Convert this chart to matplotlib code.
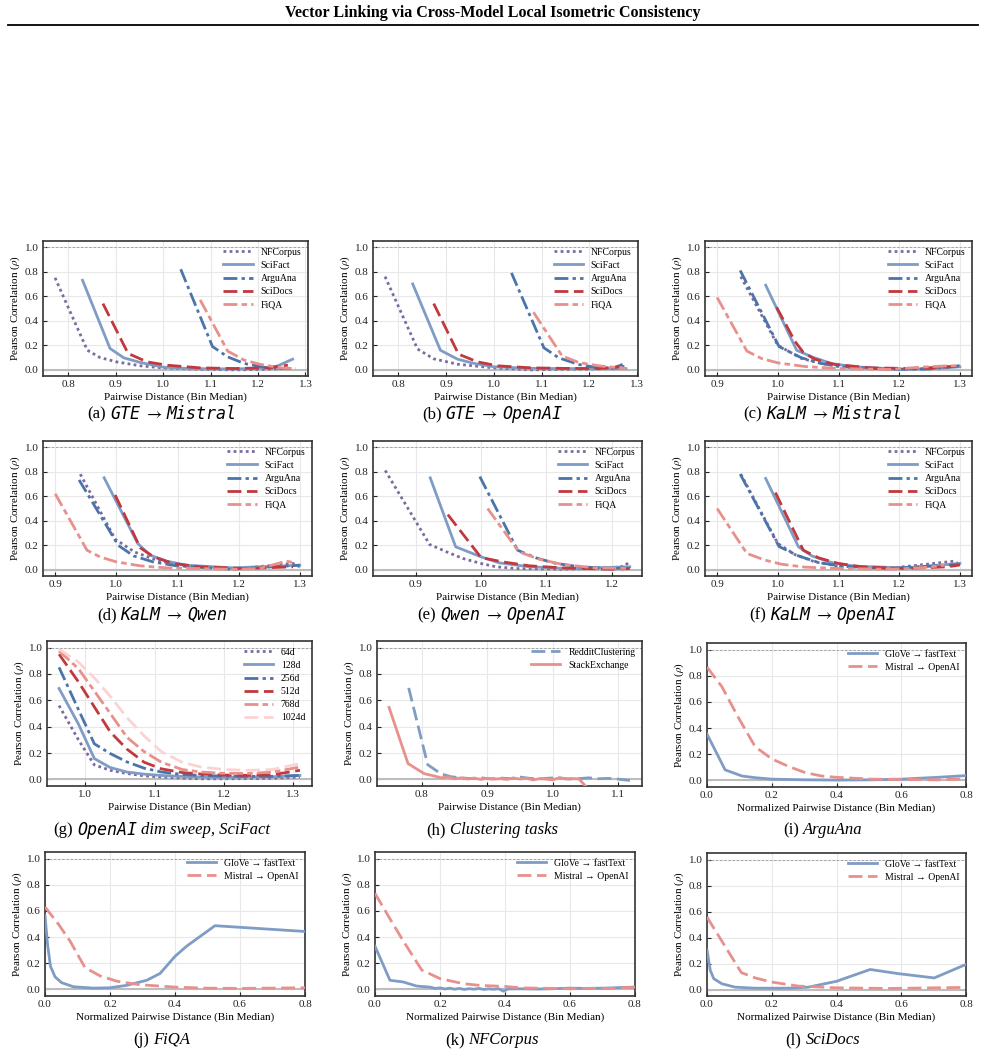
import matplotlib
matplotlib.use('Agg')
import matplotlib.pyplot as plt
from matplotlib.lines import Line2D
from matplotlib.ticker import FormatStrFormatter, MultipleLocator

plt.rcParams['font.family'] = ['Liberation Serif', 'DejaVu Serif']
plt.rcParams['mathtext.fontset'] = 'stix'

# ---- data ----
# (a) GTE -> Mistral
a_nfcorpus_x = [0.772, 0.840, 0.867, 0.902, 0.952, 1.000, 1.05, 1.10, 1.15, 1.20, 1.25]
a_nfcorpus_y = [0.75, 0.16, 0.10, 0.065, 0.033, 0.016, 0.008, 0.003, 0.0, 0.003, 0.01]
a_scifact_x = [0.830, 0.888, 0.917, 0.952, 1.000, 1.05, 1.10, 1.15, 1.20, 1.24, 1.273]
a_scifact_y = [0.73, 0.174, 0.098, 0.060, 0.022, 0.012, 0.008, 0.008, 0.012, 0.03, 0.087]
a_arguana_x = [1.037, 1.104, 1.136, 1.171, 1.220, 1.270]
a_arguana_y = [0.82, 0.19, 0.106, 0.052, 0.016, 0.010]
a_scidocs_x = [0.873, 0.926, 0.966, 1.008, 1.079, 1.150, 1.220, 1.263]
a_scidocs_y = [0.54, 0.134, 0.065, 0.038, 0.016, 0.011, 0.016, 0.038]
a_fiqa_x = [1.078, 1.136, 1.171, 1.206, 1.249, 1.280]
a_fiqa_y = [0.57, 0.153, 0.079, 0.044, 0.016, 0.010]

# (b) GTE -> OpenAI
b_nfcorpus_x = [0.772, 0.840, 0.874, 0.924, 1.000, 1.080, 1.15, 1.22, 1.277]
b_nfcorpus_y = [0.76, 0.17, 0.09, 0.046, 0.016, 0.0, 0.005, 0.008, 0.03]
b_scifact_x = [0.830, 0.888, 0.924, 0.959, 1.000, 1.08, 1.16, 1.22, 1.277]
b_scifact_y = [0.70, 0.16, 0.087, 0.052, 0.025, 0.012, 0.01, 0.01, 0.01]
b_arguana_x = [1.037, 1.105, 1.136, 1.178, 1.220, 1.250, 1.270]
b_arguana_y = [0.79, 0.18, 0.098, 0.044, 0.016, 0.012, 0.045]
b_scidocs_x = [0.874, 0.926, 0.966, 1.008, 1.080, 1.150, 1.220, 1.263]
b_scidocs_y = [0.54, 0.128, 0.065, 0.033, 0.016, 0.012, 0.011, 0.025]
b_fiqa_x = [1.083, 1.143, 1.178, 1.220, 1.277]
b_fiqa_y = [0.47, 0.114, 0.060, 0.033, 0.011]

# (c) KaLM -> Mistral
c_nfcorpus_x = [0.939, 1.000, 1.039, 1.072, 1.105, 1.15, 1.200, 1.25, 1.300]
c_nfcorpus_y = [0.76, 0.20, 0.093, 0.052, 0.025, 0.012, 0.005, 0.01, 0.033]
c_scifact_x = [0.980, 1.031, 1.056, 1.088, 1.127, 1.200, 1.25, 1.300]
c_scifact_y = [0.69, 0.16, 0.106, 0.052, 0.025, 0.005, 0.008, 0.025]
c_arguana_x = [0.938, 1.002, 1.039, 1.072, 1.105, 1.182, 1.25, 1.300]
c_arguana_y = [0.81, 0.19, 0.098, 0.052, 0.025, 0.005, 0.008, 0.033]
c_scidocs_x = [0.998, 1.028, 1.042, 1.061, 1.094, 1.154, 1.225, 1.300]
c_scidocs_y = [0.51, 0.234, 0.142, 0.087, 0.044, 0.016, 0.011, 0.030]
c_fiqa_x = [0.900, 0.949, 0.973, 1.000, 1.045, 1.100, 1.182, 1.236, 1.280, 1.300]
c_fiqa_y = [0.59, 0.153, 0.093, 0.057, 0.027, 0.011, 0.003, 0.022, 0.033, 0.033]

# (d) KaLM -> Qwen
d_nfcorpus_x = [0.941, 0.998, 1.030, 1.060, 1.090, 1.120, 1.200, 1.289, 1.300]
d_nfcorpus_y = [0.78, 0.25, 0.145, 0.09, 0.05, 0.03, 0.011, 0.052, 0.025]
d_scifact_x = [0.980, 1.035, 1.055, 1.082, 1.115, 1.190, 1.300]
d_scifact_y = [0.75, 0.215, 0.120, 0.071, 0.038, 0.016, 0.038]
d_arguana_x = [0.939, 1.003, 1.028, 1.060, 1.098, 1.190, 1.300]
d_arguana_y = [0.733, 0.20, 0.114, 0.065, 0.033, 0.005, 0.038]
d_scidocs_x = [0.998, 1.039, 1.061, 1.093, 1.136, 1.212, 1.289]
d_scidocs_y = [0.61, 0.18, 0.106, 0.052, 0.025, 0.011, 0.025]
d_fiqa_x = [0.900, 0.952, 0.973, 1.000, 1.039, 1.082, 1.190, 1.234, 1.278, 1.289]
d_fiqa_y = [0.62, 0.16, 0.106, 0.065, 0.033, 0.016, 0.005, 0.011, 0.071, 0.060]

# (e) Qwen -> OpenAI
e_nfcorpus_x = [0.853, 0.921, 0.947, 0.972, 1.000, 1.023, 1.054, 1.125, 1.200, 1.220, 1.228]
e_nfcorpus_y = [0.81, 0.207, 0.147, 0.093, 0.052, 0.025, 0.011, 0.005, 0.016, 0.03, 0.07]
e_scifact_x = [0.922, 0.961, 1.000, 1.028, 1.074, 1.135, 1.228]
e_scifact_y = [0.75, 0.188, 0.106, 0.057, 0.025, 0.011, 0.025]
e_arguana_x = [0.998, 1.056, 1.084, 1.115, 1.151, 1.200, 1.228]
e_arguana_y = [0.76, 0.16, 0.098, 0.052, 0.025, 0.011, 0.016]
e_scidocs_x = [0.949, 1.000, 1.033, 1.074, 1.125, 1.200, 1.228]
e_scidocs_y = [0.45, 0.10, 0.065, 0.033, 0.016, 0.005, 0.011]
e_fiqa_x = [1.010, 1.058, 1.089, 1.125, 1.175, 1.228]
e_fiqa_y = [0.50, 0.147, 0.087, 0.044, 0.016, 0.011]

# (f) KaLM -> OpenAI
f_nfcorpus_x = [0.939, 1.000, 1.028, 1.061, 1.100, 1.182, 1.291, 1.300]
f_nfcorpus_y = [0.78, 0.215, 0.125, 0.065, 0.030, 0.011, 0.071, 0.040]
f_scifact_x = [0.980, 1.034, 1.056, 1.088, 1.127, 1.209, 1.300]
f_scifact_y = [0.745, 0.188, 0.114, 0.060, 0.030, 0.016, 0.052]
f_arguana_x = [0.938, 1.002, 1.034, 1.067, 1.105, 1.182, 1.300]
f_arguana_y = [0.78, 0.19, 0.114, 0.060, 0.030, 0.011, 0.044]
f_scidocs_x = [0.996, 1.042, 1.067, 1.100, 1.138, 1.209, 1.280, 1.300]
f_scidocs_y = [0.63, 0.16, 0.098, 0.052, 0.025, 0.011, 0.025, 0.040]
f_fiqa_x = [0.900, 0.949, 0.979, 1.006, 1.045, 1.100, 1.182, 1.236, 1.275]
f_fiqa_y = [0.50, 0.134, 0.079, 0.046, 0.022, 0.011, 0.005, 0.016, 0.038]

# (g) OpenAI dim sweep on SciFact
g_x = [0.962, 0.990, 1.013, 1.036, 1.060, 1.085, 1.110, 1.140, 1.167, 1.200, 1.235, 1.270, 1.310]
g_64d = [0.56, 0.30, 0.11, 0.069, 0.045, 0.027, 0.018, 0.010, 0.005, 0.005, 0.006, 0.008, 0.018]
g_128d = [0.69, 0.42, 0.158, 0.09, 0.056, 0.04, 0.03, 0.022, 0.018, 0.016, 0.018, 0.02, 0.03]
g_256d = [0.85, 0.53, 0.27, 0.196, 0.133, 0.085, 0.056, 0.038, 0.03, 0.025, 0.023, 0.023, 0.03]
g_512d = [0.95, 0.74, 0.55, 0.36, 0.23, 0.13, 0.08, 0.052, 0.041, 0.033, 0.031, 0.035, 0.069]
g_768d = [0.975, 0.84, 0.67, 0.5, 0.32, 0.21, 0.13, 0.075, 0.056, 0.046, 0.045, 0.055, 0.094]
g_1024d = [0.987, 0.89, 0.77, 0.63, 0.47, 0.33, 0.21, 0.13, 0.094, 0.075, 0.069, 0.075, 0.12]

# (h) clustering tasks
h_reddit_x = [0.780, 0.809, 0.829, 0.845, 0.860, 0.875, 0.890, 0.905, 0.920, 0.935, 0.950,
              0.965, 0.980, 0.995, 1.010, 1.025, 1.040, 1.055, 1.070, 1.085, 1.100, 1.118]
h_reddit_y = [0.694, 0.112, 0.043, 0.02, 0.012, 0.006, 0.012, 0.004, 0.01, 0.006, 0.018,
              0.008, 0.004, 0.01, 0.012, 0.003, 0.006, 0.012, 0.005, 0.008, 0.002, -0.008]
h_stack_x = [0.750, 0.779, 0.804, 0.819, 0.83, 0.84, 0.85, 0.86, 0.87, 0.88, 0.89, 0.90, 0.91, 0.92,
             0.93, 0.94, 0.95, 0.96, 0.97, 0.98, 0.99, 1.00, 1.01, 1.02, 1.03, 1.04, 1.052]
h_stack_y = [0.546, 0.12, 0.043, 0.026, 0.012, 0.02, 0.004, 0.012, 0.003, 0.01, 0.0, 0.008, 0.002, 0.006,
             0.0, 0.01, 0.003, 0.008, -0.004, 0.006, 0.002, -0.003, 0.012, 0.003, 0.006, 0.004, -0.06]

# (i) ArguAna, normalized distance
i_glove_x = [0.0, 0.056, 0.108, 0.149, 0.2, 0.303, 0.4, 0.508, 0.6, 0.713, 0.8]
i_glove_y = [0.354, 0.081, 0.034, 0.021, 0.01, 0.005, 0.003, 0.005, 0.01, 0.024, 0.037]
i_mistral_x = [0.0, 0.046, 0.097, 0.149, 0.2, 0.251, 0.303, 0.354, 0.4, 0.508, 0.6, 0.713, 0.8]
i_mistral_y = [0.866, 0.716, 0.48, 0.257, 0.165, 0.108, 0.06, 0.034, 0.024, 0.01, 0.008, 0.005, 0.013]

# (j) FiQA
j_glove_x = [0.0, 0.008, 0.017, 0.031, 0.051, 0.087, 0.149, 0.2, 0.251, 0.313, 0.354, 0.4, 0.436, 0.523, 0.8]
j_glove_y = [0.565, 0.34, 0.175, 0.096, 0.052, 0.021, 0.010, 0.013, 0.031, 0.07, 0.122, 0.253, 0.331, 0.487, 0.443]
j_mistral_x = [0.0, 0.041, 0.077, 0.123, 0.169, 0.221, 0.292, 0.4, 0.497, 0.6, 0.8]
j_mistral_y = [0.63, 0.5, 0.37, 0.167, 0.104, 0.063, 0.036, 0.018, 0.01, 0.008, 0.013]

# (k) NFCorpus
k_glove_x = [0.0, 0.046, 0.087, 0.128, 0.169, 0.185, 0.2, 0.215, 0.23, 0.245, 0.26, 0.275, 0.29, 0.305,
             0.32, 0.335, 0.35, 0.365, 0.38, 0.395, 0.41, 0.45, 0.5, 0.55, 0.6, 0.65, 0.7, 0.75, 0.8]
k_glove_y = [0.33, 0.07, 0.057, 0.026, 0.018, 0.008, 0.012, 0.004, 0.01, 0.002, 0.008, 0.0, 0.006, 0.002,
             0.008, 0.0, 0.005, 0.001, 0.006, -0.013, 0.004, 0.005, 0.003, 0.006, 0.01, 0.008, 0.01, 0.014, 0.018]
k_mistral_x = [0.0, 0.046, 0.087, 0.144, 0.2, 0.272, 0.323, 0.4, 0.45, 0.497, 0.55, 0.6, 0.65, 0.7, 0.75, 0.8]
k_mistral_y = [0.734, 0.54, 0.37, 0.148, 0.083, 0.044, 0.031, 0.023, 0.012, 0.01, 0.008, 0.005, 0.008, 0.006, 0.01, 0.018]

# (l) SciDocs
l_glove_x = [0.0, 0.01, 0.021, 0.046, 0.087, 0.149, 0.252, 0.313, 0.4, 0.504, 0.591, 0.702, 0.8]
l_glove_y = [0.305, 0.148, 0.083, 0.044, 0.018, 0.01, 0.01, 0.018, 0.063, 0.154, 0.122, 0.089, 0.193]
l_mistral_x = [0.0, 0.106, 0.149, 0.2, 0.283, 0.4, 0.56, 0.8]
l_mistral_y = [0.557, 0.13, 0.089, 0.057, 0.026, 0.013, 0.008, 0.016]

TITLE = "Vector Linking via Cross-Model Local Isometric Consistency"

# ---- styles ----
PURPLE = '#7b6ba0'
LBLUE = '#7f9cc5'
BLUE = '#4a74aa'
RED = '#c1383d'
SALMON = '#e8908c'
PALE = '#fcd3d3'

DS_STYLE = {
    'NFCorpus': (PURPLE, (0, (1, 1.2))),
    'SciFact': (LBLUE, '-'),
    'ArguAna': (BLUE, (0, (5, 1.5, 1.2, 1.5))),
    'SciDocs': (RED, (0, (5, 2))),
    'FiQA': (SALMON, (0, (5, 1.5, 2, 1.5))),
}

W, H = 985, 1055
fig = plt.figure(figsize=(W / 100, H / 100), dpi=100)

fig.text(0.5, 1 - 13 / H, TITLE, ha='center', va='center', fontsize=11.5, fontweight='bold')
fig.add_artist(Line2D([8 / W, 978 / W], [1 - 25 / H, 1 - 25 / H], color='black', lw=1.3))


def add_axes(l, t, r, b):
    return fig.add_axes([l / W, 1 - b / H, (r - l) / W, (b - t) / H])


def style_ax(ax, xlabel, xstep):
    ax.set_ylim(-0.05, 1.05)
    ax.axhline(1.0, color='#9a9a9a', lw=0.6, ls=(0, (3, 2)), zorder=1)
    ax.axhline(0.0, color='#bdbdbd', lw=1.5, zorder=1)
    ax.grid(True, color='#e8e8e8', lw=0.8)
    ax.set_axisbelow(True)
    ax.tick_params(direction='in', length=3, width=0.8, labelsize=8, colors='#222222', pad=3)
    for sp in ax.spines.values():
        sp.set_color('#333333')
        sp.set_linewidth(1.2)
    ax.set_ylabel('Pearson Correlation ($\\rho$)', fontsize=8, labelpad=2)
    ax.set_xlabel(xlabel, fontsize=8, labelpad=2)
    ax.set_yticks([0.0, 0.2, 0.4, 0.6, 0.8, 1.0])
    ax.xaxis.set_major_locator(MultipleLocator(xstep))
    ax.yaxis.set_major_formatter(FormatStrFormatter('%.1f'))
    ax.xaxis.set_major_formatter(FormatStrFormatter('%.1f'))


def legend(ax, **kw):
    ax.legend(loc='upper right', frameon=False, fontsize=7, handlelength=3.0,
              labelspacing=0.42, borderaxespad=0.3, handletextpad=0.8, **kw)


FONTS = {
    'rm': dict(family=['Liberation Serif', 'DejaVu Serif']),
    'it': dict(family=['Liberation Serif', 'DejaVu Serif'], style='italic'),
    'tt': dict(family='DejaVu Sans Mono', style='oblique'),
}


def caption(cx, cy, pieces, size=12):
    r = fig.canvas.get_renderer()
    texts = []
    for s, kind in pieces:
        t = fig.text(0, 1 - cy / H, s, fontsize=size, ha='left', va='center', **FONTS[kind])
        texts.append(t)
    widths = [t.get_window_extent(r).width for t in texts]
    gap = 4
    total = sum(widths) + gap * (len(texts) - 1)
    x = cx - total / 2
    for t, w in zip(texts, widths):
        t.set_x(x / W)
        x += w + gap


DIST = 'Pairwise Distance (Bin Median)'
NDIST = 'Normalized Pairwise Distance (Bin Median)'

benchmark_panels = [
    ((43, 241, 308, 376), (162, 414), 'a', 'GTE', 'Mistral',
     [(a_nfcorpus_x, a_nfcorpus_y), (a_scifact_x, a_scifact_y), (a_arguana_x, a_arguana_y),
      (a_scidocs_x, a_scidocs_y), (a_fiqa_x, a_fiqa_y)]),
    ((373, 241, 638, 376), (492, 414), 'b', 'GTE', 'OpenAI',
     [(b_nfcorpus_x, b_nfcorpus_y), (b_scifact_x, b_scifact_y), (b_arguana_x, b_arguana_y),
      (b_scidocs_x, b_scidocs_y), (b_fiqa_x, b_fiqa_y)]),
    ((705, 241, 972, 376), (823, 414), 'c', 'KaLM', 'Mistral',
     [(c_nfcorpus_x, c_nfcorpus_y), (c_scifact_x, c_scifact_y), (c_arguana_x, c_arguana_y),
      (c_scidocs_x, c_scidocs_y), (c_fiqa_x, c_fiqa_y)]),
    ((43, 441, 312, 576), (162, 615), 'd', 'KaLM', 'Qwen',
     [(d_nfcorpus_x, d_nfcorpus_y), (d_scifact_x, d_scifact_y), (d_arguana_x, d_arguana_y),
      (d_scidocs_x, d_scidocs_y), (d_fiqa_x, d_fiqa_y)]),
    ((373, 441, 642, 576), (492, 615), 'e', 'Qwen', 'OpenAI',
     [(e_nfcorpus_x, e_nfcorpus_y), (e_scifact_x, e_scifact_y), (e_arguana_x, e_arguana_y),
      (e_scidocs_x, e_scidocs_y), (e_fiqa_x, e_fiqa_y)]),
    ((705, 441, 972, 576), (823, 615), 'f', 'KaLM', 'OpenAI',
     [(f_nfcorpus_x, f_nfcorpus_y), (f_scifact_x, f_scifact_y), (f_arguana_x, f_arguana_y),
      (f_scidocs_x, f_scidocs_y), (f_fiqa_x, f_fiqa_y)]),
]

for rect, cpos, letter, src, dst, series in benchmark_panels:
    ax = add_axes(*rect)
    for name, (xs, ys) in zip(['NFCorpus', 'SciFact', 'ArguAna', 'SciDocs', 'FiQA'], series):
        col, ls = DS_STYLE[name]
        ax.plot(xs, ys, color=col, ls=ls, lw=2, label=name, zorder=3)
    style_ax(ax, DIST, 0.1)
    legend(ax)
    caption(cpos[0], cpos[1], [('(%s)' % letter, 'rm'), (src, 'tt'), ('$\\rightarrow$', 'rm'), (dst, 'tt')])

# (g) dim sweep
ax = add_axes(47, 641, 312, 786)
dims = [('64d', g_64d, PURPLE, (0, (1, 1.2))), ('128d', g_128d, LBLUE, '-'),
        ('256d', g_256d, BLUE, (0, (5, 1.5, 1.2, 1.5))), ('512d', g_512d, RED, (0, (5, 2))),
        ('768d', g_768d, SALMON, (0, (5, 1.5, 2, 1.5))), ('1024d', g_1024d, PALE, (0, (5, 2)))]
for name, ys, col, ls in dims:
    ax.plot(g_x, ys, color=col, ls=ls, lw=2, label=name, zorder=3)
style_ax(ax, DIST, 0.1)
legend(ax)
caption(162, 830, [('(g)', 'rm'), ('OpenAI', 'tt'), ('dim sweep, SciFact', 'it')])

# (h) clustering
ax = add_axes(377, 641, 642, 786)
ax.plot(h_reddit_x, h_reddit_y, color=LBLUE, ls=(0, (5, 2)), lw=2, label='RedditClustering', zorder=3)
ax.plot(h_stack_x, h_stack_y, color=SALMON, ls='-', lw=2, label='StackExchange', zorder=3)
style_ax(ax, DIST, 0.1)
legend(ax)
caption(492, 830, [('(h)', 'rm'), ('Clustering tasks', 'it')])

# (i)-(l) GloVe vs Mistral
norm_panels = [
    ((707, 643, 966, 787), (823, 830), 'i', 'ArguAna', (i_glove_x, i_glove_y), (i_mistral_x, i_mistral_y)),
    ((45, 852, 305, 996), (162, 1040), 'j', 'FiQA', (j_glove_x, j_glove_y), (j_mistral_x, j_mistral_y)),
    ((375, 852, 635, 996), (492, 1040), 'k', 'NFCorpus', (k_glove_x, k_glove_y), (k_mistral_x, k_mistral_y)),
    ((707, 853, 966, 996), (823, 1040), 'l', 'SciDocs', (l_glove_x, l_glove_y), (l_mistral_x, l_mistral_y)),
]
for rect, cpos, letter, name, glove, mistral in norm_panels:
    ax = add_axes(*rect)
    ax.plot(glove[0], glove[1], color=LBLUE, ls='-', lw=2, label='GloVe \u2192 fastText', zorder=3)
    ax.plot(mistral[0], mistral[1], color=SALMON, ls=(0, (5, 2)), lw=2, label='Mistral \u2192 OpenAI', zorder=3)
    style_ax(ax, NDIST, 0.2)
    ax.set_xlim(0, 0.8)
    legend(ax)
    caption(cpos[0], cpos[1], [('(%s)' % letter, 'rm'), (name, 'it')])

fig.savefig('out.png', dpi=100)
